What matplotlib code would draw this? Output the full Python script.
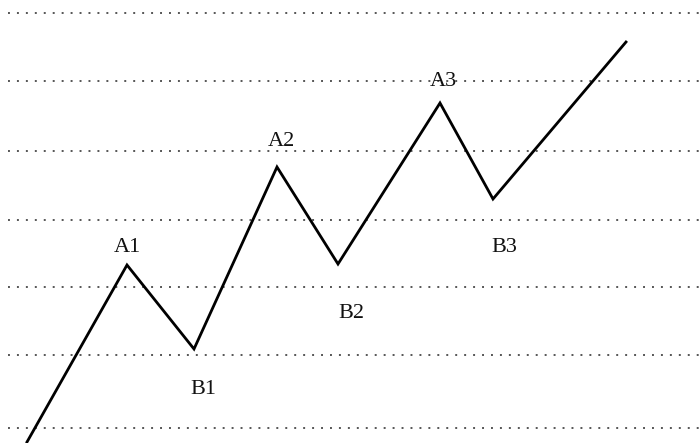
import matplotlib
matplotlib.use('Agg')
import matplotlib.pyplot as plt

# zigzag path (x, level), level measured upward
wave_x = [27, 127, 194, 277, 338, 440, 493, 626]
wave_y = [1, 178, 94, 276, 179, 340, 244, 401]

labels = ['A1', 'B1', 'A2', 'B2', 'A3', 'B3']
label_x = [127, 203, 281, 351, 443, 504]
label_y = [196, 54, 302, 130, 362, 196]

grid_levels = [430, 362, 292, 223, 156, 88, 15]

fig = plt.figure(figsize=(7, 4.43), dpi=100)
ax = fig.add_axes([0, 0, 1, 1])
ax.set_xlim(0, 700)
ax.set_ylim(0, 443)
ax.axis('off')

for g in grid_levels:
    ax.plot([8, 700], [g, g], color='#555555', lw=1.4, linestyle=(0, (1, 3.6)))

ax.plot(wave_x, wave_y, color='black', lw=2.0, solid_joinstyle='miter')

for t, x, y in zip(labels, label_x, label_y):
    ax.text(x, y, t, ha='center', va='center', fontsize=16,
            family='Liberation Serif', color='#111111')

plt.savefig('out.png', dpi=100)
print("done")
